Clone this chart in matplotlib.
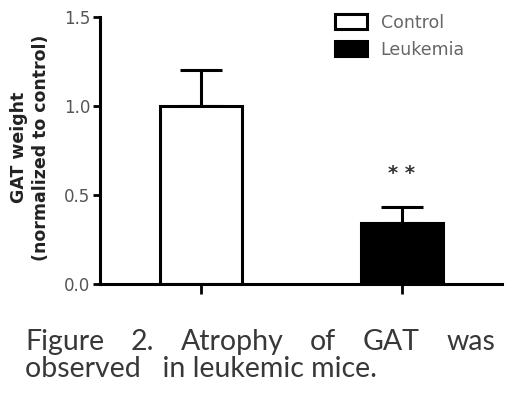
import matplotlib
matplotlib.use("Agg")
from matplotlib import pyplot as plt

groups = ["Control", "Leukemia"]
means = [1.0, 0.34]
sems = [0.20, 0.09]
bar_colors = ["white", "black"]
yticks = [0.0, 0.5, 1.0, 1.5]
caption_line1 = ["Figure", "2.", "Atrophy", "of", "GAT", "was"]
caption_line2 = "observed   in leukemic mice."

plt.rcParams["font.family"] = ["DejaVu Sans"]

fig = plt.figure(figsize=(5.2, 4.03), dpi=100)
ax = fig.add_axes([100 / 520, 1 - 284 / 403, 402 / 520, 267 / 403])

x = list(range(len(groups)))
for i in x:
    ax.bar(i, means[i], width=0.41, color=bar_colors[i], edgecolor="black",
           linewidth=2.2, label=groups[i], zorder=2)
    ax.errorbar(i, means[i], yerr=[[0], [sems[i]]], fmt="none", ecolor="black",
                elinewidth=2.2, capsize=15, capthick=2.2, zorder=1)

# significance marker
ax.text(1, means[1] + sems[1] + 0.19, "* *", ha="center", va="center",
        fontsize=14, fontweight="bold", color="#333333")

ax.set_xlim(-0.502, 1.498)
ax.set_ylim(0, 1.5)
ax.set_yticks(yticks)
ax.set_yticklabels(["%.1f" % v for v in yticks], color="#555555", fontsize=12)
ax.set_xticks(x)
ax.set_xticklabels([])
ax.tick_params(axis="y", direction="out", length=5, width=2, pad=2)
ax.tick_params(axis="x", direction="out", length=7, width=2)
for s in ["top", "right"]:
    ax.spines[s].set_visible(False)
for s in ["left", "bottom"]:
    ax.spines[s].set_linewidth(2.2)

ax.set_ylabel("GAT weight\n(normalized to control)", fontsize=12.5,
              fontweight="bold", color="#222222", linespacing=1.3)
ax.yaxis.set_label_coords(-0.125, 0.51)

leg = ax.legend(loc="upper left", bbox_to_anchor=(0.545, 1.07), frameon=False,
                fontsize=12.5, handlelength=1.85, handleheight=0.95,
                handletextpad=0.8, labelspacing=0.5)
for t in leg.get_texts():
    t.set_color("#666666")

# justified caption, line 1
fig.canvas.draw()
r = fig.canvas.get_renderer()
cap_kw = dict(fontsize=20.5, color="#383838", family="Lato", va="baseline")
left_px, right_px = 25, 495
texts = [fig.text(0, 1 - 350 / 403, w, **cap_kw) for w in caption_line1]
widths = [t.get_window_extent(r).width for t in texts]
gap = (right_px - left_px - sum(widths)) / (len(widths) - 1)
pos = left_px
for t, w in zip(texts, widths):
    t.set_x(pos / 520)
    pos += w + gap
fig.text(left_px / 520, 1 - 377 / 403, caption_line2, **cap_kw)

fig.savefig("out.png", dpi=100)
